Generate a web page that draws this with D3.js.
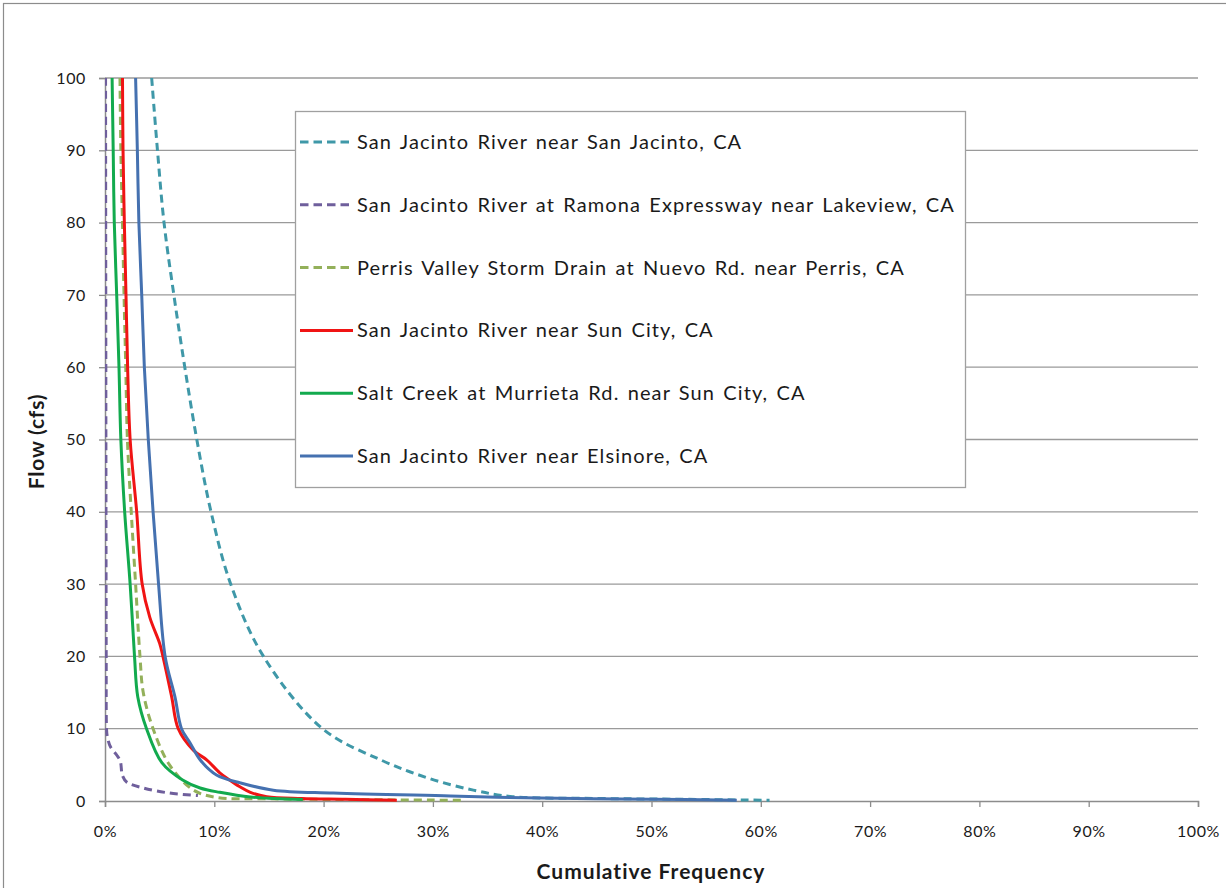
<!DOCTYPE html>
<html>
<head>
<meta charset="utf-8">
<script src="https://cdnjs.cloudflare.com/ajax/libs/d3/7.8.5/d3.min.js"></script>
<style>
  body { margin: 0; background: #fff; }
  svg text { font-family: Lato, "Open Sans", sans-serif; fill: #1a1a1a; }
</style>
</head>
<body>
<div id="chart"></div>
<script>
// DATA (cumulative frequency in %, flow in cfs)
var seriesNames = [
  "San Jacinto River near San Jacinto, CA",
  "San Jacinto River at Ramona Expressway near Lakeview, CA",
  "Perris Valley Storm Drain at Nuevo Rd. near Perris, CA",
  "San Jacinto River near Sun City, CA",
  "Salt Creek at Murrieta Rd. near Sun City, CA",
  "San Jacinto River near Elsinore, CA"
];
var seriesColors = ["#3f98a8", "#6f5f9c", "#93b05a", "#f01414", "#12aa4e", "#4571b0"];
var seriesDashed = [true, true, true, false, false, false];

var sanJacintoFreq = [4.27, 4.8, 5.4, 6.3, 7.3, 8.4, 9.7, 11.5, 14.5, 19.9, 25.2, 29.5, 33.7, 37.3, 45, 52, 60.8];
var sanJacintoFlow = [100, 90, 80, 70, 60, 50, 40, 30, 20, 10, 5.7, 3.2, 1.5, 0.6, 0.35, 0.25, 0.1];

var ramonaFreq = [0.05, 0.07, 0.09, 0.11, 0.14, 0.2, 0.5, 1.1, 1.4, 1.6, 2.0, 3.5, 5.9, 8.5];
var ramonaFlow = [100, 70, 40, 20, 10, 9, 7.5, 6.3, 5.5, 3.5, 2.6, 1.8, 1.1, 0.75];

var perrisFreq = [1.37, 1.45, 1.6, 1.74, 1.9, 2.05, 2.4, 2.8, 3.2, 3.5, 4.4, 5.9, 8.1, 10.2, 15, 22, 32.7];
var perrisFlow = [100, 90, 80, 70, 60, 50, 40, 30, 20, 15, 10, 5, 1.5, 0.5, 0.3, 0.2, 0.1];

var sunCityFreq = [1.6, 1.65, 1.77, 1.92, 2.07, 2.3, 2.9, 3.4, 4.1, 5.0, 5.3, 6.1, 6.7, 8.1, 9.3, 10.5, 11.4, 12.3, 13.3, 14.8, 18, 22, 26.7];
var sunCityFlow = [100, 90, 80, 70, 60, 50, 40, 30, 25.4, 21.8, 20, 14.4, 10, 7, 5.7, 3.9, 2.9, 2.0, 1.2, 0.6, 0.35, 0.25, 0.1];

var saltCreekFreq = [0.65, 0.75, 0.85, 1.07, 1.28, 1.45, 1.8, 2.3, 2.7, 3.0, 3.8, 5.2, 7.1, 8.7, 10.5, 13.3, 18.1];
var saltCreekFlow = [100, 90, 80, 70, 60, 50, 40, 30, 20, 14.4, 10, 5.3, 2.9, 1.8, 1.2, 0.55, 0.2];

var elsinoreFreq = [2.8, 2.96, 3.1, 3.36, 3.6, 3.96, 4.4, 4.9, 5.5, 6.4, 7.0, 7.8, 8.7, 10.2, 12.4, 15.4, 20.9, 31.6, 39.8, 50, 57.8];
var elsinoreFlow = [100, 90, 80, 70, 60, 50, 40, 30, 20, 14.4, 10, 8, 5.7, 3.6, 2.5, 1.5, 1.1, 0.7, 0.4, 0.25, 0.1];

var seriesFreq = [sanJacintoFreq, ramonaFreq, perrisFreq, sunCityFreq, saltCreekFreq, elsinoreFreq];
var seriesFlow = [sanJacintoFlow, ramonaFlow, perrisFlow, sunCityFlow, saltCreekFlow, elsinoreFlow];

var xTicks = [0, 10, 20, 30, 40, 50, 60, 70, 80, 90, 100];
var yTicks = [0, 10, 20, 30, 40, 50, 60, 70, 80, 90, 100];

// CHART SETUP
var W = 1226, H = 888;
var margin = { top: 78, right: 28, bottom: 87, left: 105 };
var width = W - margin.left - margin.right,
  height = H - margin.top - margin.bottom;

var svg = d3.select("#chart").append("svg").attr("width", W).attr("height", H);

// outer frame
svg.append("rect")
  .attr("x", 3.5).attr("y", 3.5)
  .attr("width", W + 20).attr("height", H + 20)
  .attr("fill", "none").attr("stroke", "#8c8c8c").attr("stroke-width", 1.2);

var g = svg.append("g").attr("transform", "translate(" + margin.left + "," + margin.top + ")");

var xScale = d3.scaleLinear().domain([0, 100]).range([0, width]);
var yScale = d3.scaleLinear().domain([0, 100]).range([height, 0]);

// GRIDLINES
g.selectAll(".grid")
  .data(yTicks.filter((d) => d > 0))
  .enter()
  .append("line")
  .attr("class", "grid")
  .attr("x1", 0).attr("x2", width)
  .attr("y1", (d) => yScale(d)).attr("y2", (d) => yScale(d))
  .attr("stroke", "#9a9a9a").attr("stroke-width", 1.3);

// AXES
var xAxis = d3.axisBottom(xScale).tickValues(xTicks).tickSize(6).tickPadding(19).tickFormat((d) => d + "%");
var yAxis = d3.axisLeft(yScale).tickValues(yTicks).tickSize(6).tickPadding(13);

var gx = g.append("g").attr("transform", "translate(0," + height + ")").call(xAxis);
var gy = g.append("g").call(yAxis);

[gx, gy].forEach(function (ax) {
  ax.select(".domain").attr("stroke", "#8c8c8c").attr("stroke-width", 1.5);
  ax.selectAll(".tick line").attr("stroke", "#8c8c8c").attr("stroke-width", 1.3);
  ax.selectAll("text")
    .style("font-family", "Lato, sans-serif")
    .style("font-size", "16px")
    .style("letter-spacing", "0.6px")
    .style("fill", "#1a1a1a");
});

// AXIS TITLES
svg.append("text")
  .attr("transform", "translate(44," + (margin.top + height / 2 + 2) + ") rotate(-90)")
  .attr("text-anchor", "middle")
  .style("font-size", "21px")
  .style("font-weight", "bold")
  .style("letter-spacing", "0.8px")
  .text("Flow (cfs)");

svg.append("text")
  .attr("x", 651).attr("y", 879)
  .attr("text-anchor", "middle")
  .style("font-size", "21px")
  .style("font-weight", "bold")
  .style("letter-spacing", "1px")
  .text("Cumulative Frequency");

// CURVES
g.append("clipPath").attr("id", "plotClip")
  .append("rect").attr("x", 0).attr("y", 0).attr("width", width).attr("height", height + 2);

var line = d3.line()
  .x((d) => xScale(d[0]))
  .y((d) => yScale(d[1]))
  .curve(d3.curveCatmullRom.alpha(0.5));

var curves = g.append("g").attr("clip-path", "url(#plotClip)");
seriesNames.forEach(function (name, i) {
  var pts = seriesFreq[i].map((f, j) => [f, seriesFlow[i][j]]);
  curves.append("path")
    .datum(pts)
    .attr("d", line)
    .attr("fill", "none")
    .attr("stroke", seriesColors[i])
    .attr("stroke-width", 3)
    .attr("stroke-dasharray", seriesDashed[i] ? "8,5" : null);
});

// LEGEND
var legend = svg.append("g").attr("transform", "translate(295,111)");
legend.append("rect")
  .attr("x", 0.5).attr("y", 0.5)
  .attr("width", 670).attr("height", 376)
  .attr("fill", "#fff").attr("stroke", "#a0a0a0").attr("stroke-width", 1.3);

var items = legend.selectAll(".item")
  .data(seriesNames)
  .enter()
  .append("g")
  .attr("class", "item")
  .attr("transform", (d, i) => "translate(0," + (31 + i * 62.8) + ")");

items.append("line")
  .attr("x1", 5).attr("x2", 58)
  .attr("y1", 0).attr("y2", 0)
  .attr("stroke", (d, i) => seriesColors[i])
  .attr("stroke-width", 3)
  .attr("stroke-dasharray", (d, i) => (seriesDashed[i] ? "8.5,5" : null));

items.append("text")
  .attr("x", 62).attr("y", 7)
  .style("font-size", "20px")
  .style("letter-spacing", "1.1px")
  .style("word-spacing", "2px")
  .text((d) => d);
</script>
</body>
</html>
